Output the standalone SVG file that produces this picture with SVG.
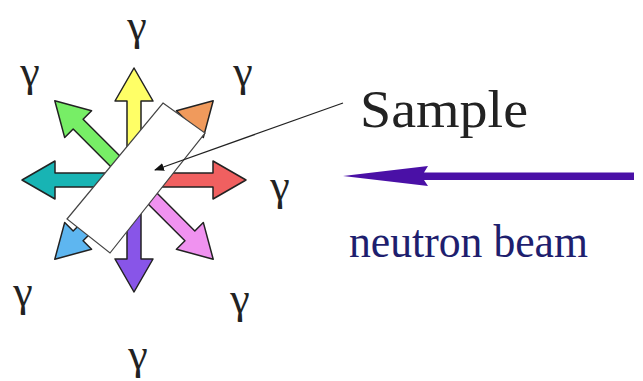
<svg xmlns="http://www.w3.org/2000/svg" width="643" height="381" viewBox="0 0 643 381">
<style>
.g{font-family:"Liberation Serif","Times New Roman",serif;font-size:44px;fill:#222;text-anchor:middle}
.arr{stroke:#222;stroke-width:1.5;stroke-linejoin:round}
.lbl{font-family:"Liberation Serif","Times New Roman",serif}
</style>
<defs>
<path id="ray" d="M-7,0 L-7,-79 L-19,-79 L0,-112 L19,-79 L7,-79 L7,0 Z"/>
<marker id="ah" markerWidth="10" markerHeight="8" refX="9" refY="4" orient="auto" markerUnits="userSpaceOnUse">
<path d="M0,0 L10,4 L0,8 Z" fill="#111"/>
</marker>
</defs>
<rect width="643" height="381" fill="#fff"/>
<g id="gamma-rays" transform="translate(134,180)">
<g id="ray-up"><use href="#ray" class="arr" fill="#FFFF66"/></g>
<g id="ray-upright"><use href="#ray" class="arr" fill="#F09A5C" transform="rotate(45)"/></g>
<g id="ray-right"><use href="#ray" class="arr" fill="#F06060" transform="rotate(90)"/></g>
<g id="ray-downright"><use href="#ray" class="arr" fill="#F092F0" transform="rotate(135)"/></g>
<g id="ray-down"><use href="#ray" class="arr" fill="#8855E8" transform="rotate(180)"/></g>
<g id="ray-downleft"><use href="#ray" class="arr" fill="#5EB6F0" transform="rotate(225)"/></g>
<g id="ray-left"><use href="#ray" class="arr" fill="#18B4B4" transform="rotate(270)"/></g>
<g id="ray-upleft"><use href="#ray" class="arr" fill="#77EE66" transform="rotate(315)"/></g>
</g>
<g id="sample">
<polygon points="163,103 205,133 110,253 67,219" fill="#fff" stroke="#444" stroke-width="1.2"/>
</g>
<g id="gamma-labels">
<text class="g" x="137" y="40">γ</text>
<text class="g" x="30" y="86">γ</text>
<text class="g" x="243" y="86">γ</text>
<text class="g" x="280" y="200">γ</text>
<text class="g" x="23" y="306">γ</text>
<text class="g" x="240" y="313">γ</text>
<text class="g" x="138" y="369">γ</text>
</g>
<g id="sample-label">
<text class="lbl" x="360" y="127" font-size="52" fill="#222" textLength="168" lengthAdjust="spacingAndGlyphs">Sample</text>
</g>
<g id="neutron-beam">
<polygon points="343,176 428,166 424,172.5 634,172.5 634,180 424,180 428,186" fill="#4A10A6"/>
<text class="lbl" x="349" y="257" font-size="46" fill="#1E1E6E" textLength="239" lengthAdjust="spacingAndGlyphs">neutron beam</text>
</g>
<g id="connectors">
<line x1="343" y1="103" x2="155" y2="170" stroke="#222" stroke-width="1.2" marker-end="url(#ah)"/>
</g>
</svg>
